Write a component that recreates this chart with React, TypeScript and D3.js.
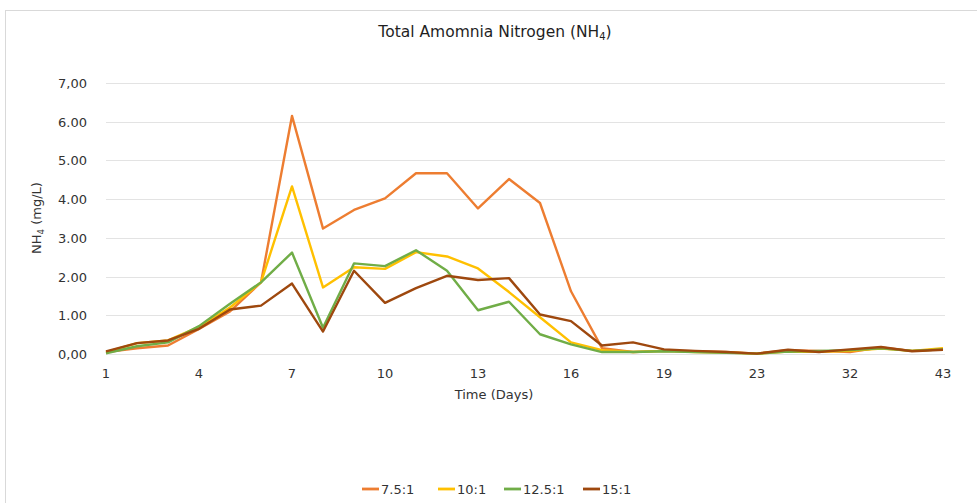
import React, { useEffect, useRef } from 'react';
import * as d3 from 'd3';

const days = ['1', '2', '3', '4', '5', '6', '7', '8', '9', '10', '11', '12', '13', '14', '15', '16', '17', '18', '19', '20', '21', '23', '26', '29', '32', '36', '39', '43'];

const ratio75 = [0.05, 0.15, 0.22, 0.65, 1.1, 1.85, 6.15, 3.24, 3.72, 4.02, 4.67, 4.67, 3.76, 4.52, 3.9, 1.62, 0.15, 0.05, 0.08, 0.07, 0.05, 0.01, 0.1, 0.08, 0.05, 0.17, 0.08, 0.12];
const ratio10 = [0.05, 0.28, 0.35, 0.7, 1.2, 1.85, 4.33, 1.72, 2.24, 2.2, 2.63, 2.52, 2.21, 1.6, 0.95, 0.3, 0.1, 0.05, 0.08, 0.05, 0.04, 0.01, 0.06, 0.06, 0.08, 0.14, 0.08, 0.15];
const ratio125 = [0.02, 0.2, 0.3, 0.72, 1.3, 1.85, 2.62, 0.68, 2.34, 2.27, 2.68, 2.15, 1.13, 1.35, 0.51, 0.25, 0.05, 0.05, 0.07, 0.05, 0.03, 0.01, 0.06, 0.08, 0.1, 0.15, 0.08, 0.12];
const ratio15 = [0.07, 0.28, 0.35, 0.65, 1.15, 1.25, 1.82, 0.58, 2.15, 1.32, 1.7, 2.02, 1.91, 1.96, 1.02, 0.85, 0.22, 0.3, 0.12, 0.08, 0.05, 0.01, 0.11, 0.05, 0.12, 0.18, 0.07, 0.11];

const seriesNames = ['7.5:1', '10:1', '12.5:1', '15:1'];
const seriesColors = ['#ED7D31', '#FFC000', '#70AD47', '#9E480E'];
const yTicks = [0, 1, 2, 3, 4, 5, 6, 7];
const yTickLabels = ['0,00', '1.00', '2.00', '3.00', '4.00', '5.00', '6.00', '7,00'];

const W = 977;
const H = 503;
const font = 'Tahoma, "DejaVu Sans", Verdana, sans-serif';

const App = () => {
    const svgRef = useRef<SVGSVGElement | null>(null);

    useEffect(() => {
        const svg = d3.select(svgRef.current);
        svg.selectAll('*').remove();

        const margin = { left: 106, right: 34, top: 83, bottom: 149 };

        // frame
        svg.append('rect')
            .attr('x', 5.5).attr('y', 10.5)
            .attr('width', W).attr('height', H)
            .attr('fill', 'white').attr('stroke', '#d9d9d9');

        const x = d3.scalePoint<string>()
            .domain(days)
            .range([margin.left, W - margin.right]);

        const y = d3.scaleLinear()
            .domain([0, 7])
            .range([H - margin.bottom, margin.top]);

        // gridlines
        svg.append('g')
            .selectAll('line')
            .data(yTicks)
            .join('line')
            .attr('x1', margin.left).attr('x2', W - margin.right + 2)
            .attr('y1', d => Math.round(y(d)) + 0.5).attr('y2', d => Math.round(y(d)) + 0.5)
            .attr('stroke', '#e3e3e3').attr('stroke-width', 1);

        // y labels
        svg.append('g')
            .selectAll('text')
            .data(yTicks)
            .join('text')
            .attr('x', 87).attr('y', d => y(d) + 5)
            .attr('text-anchor', 'end')
            .attr('font-family', font).attr('font-size', 13)
            .attr('fill', '#333')
            .text((d, i) => yTickLabels[i]);

        // x labels, every third category
        svg.append('g')
            .selectAll('text')
            .data(days.filter((d, i) => i % 3 === 0))
            .join('text')
            .attr('x', d => x(d) as number).attr('y', 378)
            .attr('text-anchor', 'middle')
            .attr('font-family', font).attr('font-size', 13)
            .attr('fill', '#333')
            .text(d => d);

        // lines
        const all = [ratio75, ratio10, ratio125, ratio15];
        const line = d3.line<number>()
            .x((d, i) => x(days[i]) as number)
            .y(d => y(d));

        svg.append('g')
            .selectAll('path')
            .data(all)
            .join('path')
            .attr('d', d => line(d))
            .attr('fill', 'none')
            .attr('stroke', (d, i) => seriesColors[i])
            .attr('stroke-width', 2.4)
            .attr('stroke-linejoin', 'round');

        // title
        const title = svg.append('text')
            .attr('x', 495).attr('y', 37)
            .attr('text-anchor', 'middle')
            .attr('font-family', font).attr('font-size', 15.5)
            .attr('fill', '#1f1f1f');
        title.append('tspan').text('Total Amomnia Nitrogen (NH');
        title.append('tspan').attr('font-size', 10).attr('dy', 3).text('4');
        title.append('tspan').attr('dy', -3).text(')');

        // y axis title
        const yt = svg.append('text')
            .attr('transform', 'translate(41,218) rotate(-90)')
            .attr('text-anchor', 'middle')
            .attr('font-family', font).attr('font-size', 13)
            .attr('fill', '#333');
        yt.append('tspan').text('NH');
        yt.append('tspan').attr('font-size', 8.5).attr('dy', 3).text('4');
        yt.append('tspan').attr('dy', -3).text(' (mg/L)');

        // x axis title
        svg.append('text')
            .attr('x', 494).attr('y', 399)
            .attr('text-anchor', 'middle')
            .attr('font-family', font).attr('font-size', 13)
            .attr('fill', '#333')
            .text('Time (Days)');

        // legend
        const legendX = [362, 438, 504, 583];
        const lg = svg.append('g')
            .selectAll('g')
            .data(seriesNames)
            .join('g')
            .attr('transform', (d, i) => `translate(${legendX[i]},489)`);
        lg.append('line')
            .attr('x1', 0).attr('x2', 17)
            .attr('stroke', (d, i) => seriesColors[i])
            .attr('stroke-width', 2.8);
        lg.append('text')
            .attr('x', 19).attr('y', 5)
            .attr('font-family', font).attr('font-size', 13)
            .attr('fill', '#333')
            .text(d => d);
    }, []);

    return (
        <svg ref={svgRef} width={W} height={H} style={{ position: 'absolute', left: 0, top: 0, background: 'white' }} />
    );
};

export default App;
